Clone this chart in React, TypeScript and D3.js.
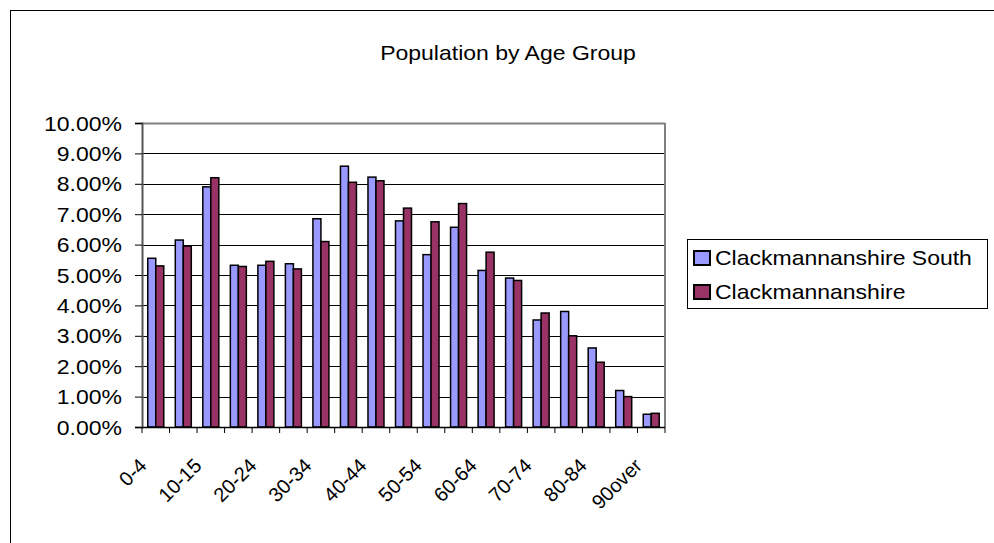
import React, { useEffect, useRef } from "react";
import * as d3 from "d3";

const ageGroups = [
  "0-4", "5-9", "10-15", "16-19", "20-24", "25-29", "30-34", "35-39", "40-44",
  "45-49", "50-54", "55-59", "60-64", "65-69", "70-74", "75-79", "80-84", "85-89", "90over",
];
const southValues = [
  5.55, 6.15, 7.9, 5.32, 5.32, 5.37, 6.85, 8.58, 8.22, 6.78, 5.67, 6.57, 5.15, 4.9, 3.52, 3.8, 2.6, 1.2, 0.42,
];
const countyValues = [
  5.3, 5.95, 8.2, 5.28, 5.45, 5.2, 6.1, 8.05, 8.1, 7.2, 6.75, 7.35, 5.75, 4.82, 3.75, 3.0, 2.13, 1.0, 0.45,
];
const seriesNames = ["Clackmannanshire South", "Clackmannanshire"];
const seriesColors = ["#9999ff", "#993366"];
const yTicks = [0, 1, 2, 3, 4, 5, 6, 7, 8, 9, 10];

const W = 994;
const H = 543;
const plot = { left: 142, right: 665, top: 123, bottom: 427 };
const font = "Arial, 'Liberation Sans', sans-serif";
const fs = 20;
const sx = 1.15; // the picture is a little wider than tall

const App = () => {
  const ref = useRef<SVGSVGElement>(null);

  useEffect(() => {
    const svg = d3.select(ref.current);
    svg.selectAll("*").remove();

    // outer chart border
    svg
      .append("rect")
      .attr("x", 10.5)
      .attr("y", 10.5)
      .attr("width", W + 20)
      .attr("height", H + 20)
      .attr("fill", "#fff")
      .attr("stroke", "#000")
      .attr("stroke-width", 1);

    svg
      .append("text")
      .text("Population by Age Group")
      .attr("transform", "translate(508,60) scale(" + sx + ",1)")
      .attr("text-anchor", "middle")
      .attr("font-family", font)
      .attr("font-size", fs);

    const x = d3.scaleBand().domain(ageGroups).range([plot.left, plot.right]);
    const y = d3.scaleLinear().domain([0, 10]).range([plot.bottom, plot.top]);

    // gridlines
    svg
      .selectAll("line.grid")
      .data(yTicks.filter((t) => t > 0))
      .enter()
      .append("line")
      .attr("class", "grid")
      .attr("x1", plot.left)
      .attr("x2", plot.right)
      .attr("y1", (d) => Math.round(y(d)) + 0.5)
      .attr("y2", (d) => Math.round(y(d)) + 0.5)
      .attr("stroke", (d) => (d === 10 ? "#808080" : "#000"))
      .attr("stroke-width", (d) => (d === 10 ? 2 : 1));

    // right plot border
    svg
      .append("line")
      .attr("x1", plot.right)
      .attr("x2", plot.right)
      .attr("y1", plot.top)
      .attr("y2", plot.bottom)
      .attr("stroke", "#808080")
      .attr("stroke-width", 2);

    // bars
    const bw = 8;
    const groups = svg
      .selectAll("g.grp")
      .data(ageGroups)
      .enter()
      .append("g")
      .attr("class", "grp")
      .attr("transform", (d) => "translate(" + (x(d)! + x.bandwidth() / 2) + ",0)");

    [southValues, countyValues].forEach((vals, si) => {
      groups
        .append("rect")
        .attr("x", si === 0 ? -bw : 0)
        .attr("y", (_d, i) => y(vals[i]))
        .attr("width", bw)
        .attr("height", (_d, i) => plot.bottom - y(vals[i]))
        .attr("fill", seriesColors[si])
        .attr("stroke", "#000")
        .attr("stroke-width", 1.5);
    });

    // y axis
    const yAxis = svg
      .append("g")
      .attr("transform", "translate(" + plot.left + ",0)")
      .call(
        d3
          .axisLeft(y)
          .tickValues(yTicks)
          .tickSize(7)
          .tickPadding(0)
          .tickFormat((d) => (d as number).toFixed(2) + "%")
      );
    yAxis.select(".domain").attr("stroke", "#555").attr("stroke-width", 2);
    yAxis.selectAll(".tick line").attr("stroke", "#000");
    yAxis
      .selectAll(".tick text")
      .attr("x", null)
      .attr("dy", null)
      .attr("transform", "translate(-20,7) scale(" + sx + ",1)")
      .attr("font-family", font)
      .attr("font-size", fs)
      .attr("fill", "#000");

    // x axis
    const xAxis = svg
      .append("g")
      .attr("transform", "translate(0," + plot.bottom + ")");
    xAxis
      .append("line")
      .attr("x1", plot.left)
      .attr("x2", plot.right)
      .attr("y1", 0.5)
      .attr("y2", 0.5)
      .attr("stroke", "#000")
      .attr("stroke-width", 1.5);
    const edges = ageGroups.map((g) => x(g)!).concat([plot.right]);
    xAxis
      .selectAll("line.tk")
      .data(edges)
      .enter()
      .append("line")
      .attr("class", "tk")
      .attr("x1", (d) => d)
      .attr("x2", (d) => d)
      .attr("y1", 0)
      .attr("y2", 6)
      .attr("stroke", "#000");
    xAxis
      .selectAll("text")
      .data(ageGroups.filter((_g, i) => i % 2 === 0))
      .enter()
      .append("text")
      .text((d) => d)
      .attr(
        "transform",
        (d) => "translate(" + (x(d)! + x.bandwidth() / 2 - 8) + ",40) rotate(-45)"
      )
      .attr("text-anchor", "end")
      .attr("font-family", font)
      .attr("font-size", fs);

    // legend
    const lg = svg.append("g").attr("transform", "translate(687,239)");
    lg.append("rect")
      .attr("x", 0.5)
      .attr("y", 0.5)
      .attr("width", 300)
      .attr("height", 69)
      .attr("fill", "#fff")
      .attr("stroke", "#000");
    seriesNames.forEach((name, i) => {
      lg.append("rect")
        .attr("x", 7)
        .attr("y", 12 + i * 34)
        .attr("width", 16)
        .attr("height", 14)
        .attr("fill", seriesColors[i])
        .attr("stroke", "#000")
        .attr("stroke-width", 2);
      lg.append("text")
        .text(name)
        .attr("transform", "translate(28," + (26 + i * 34) + ") scale(" + sx + ",1)")
        .attr("font-family", font)
        .attr("font-size", fs);
    });
  }, []);

  return (
    <svg
      ref={ref}
      width={W}
      height={H}
      style={{ position: "absolute", left: 0, top: 0, background: "#fff" }}
    />
  );
};

export default App;
